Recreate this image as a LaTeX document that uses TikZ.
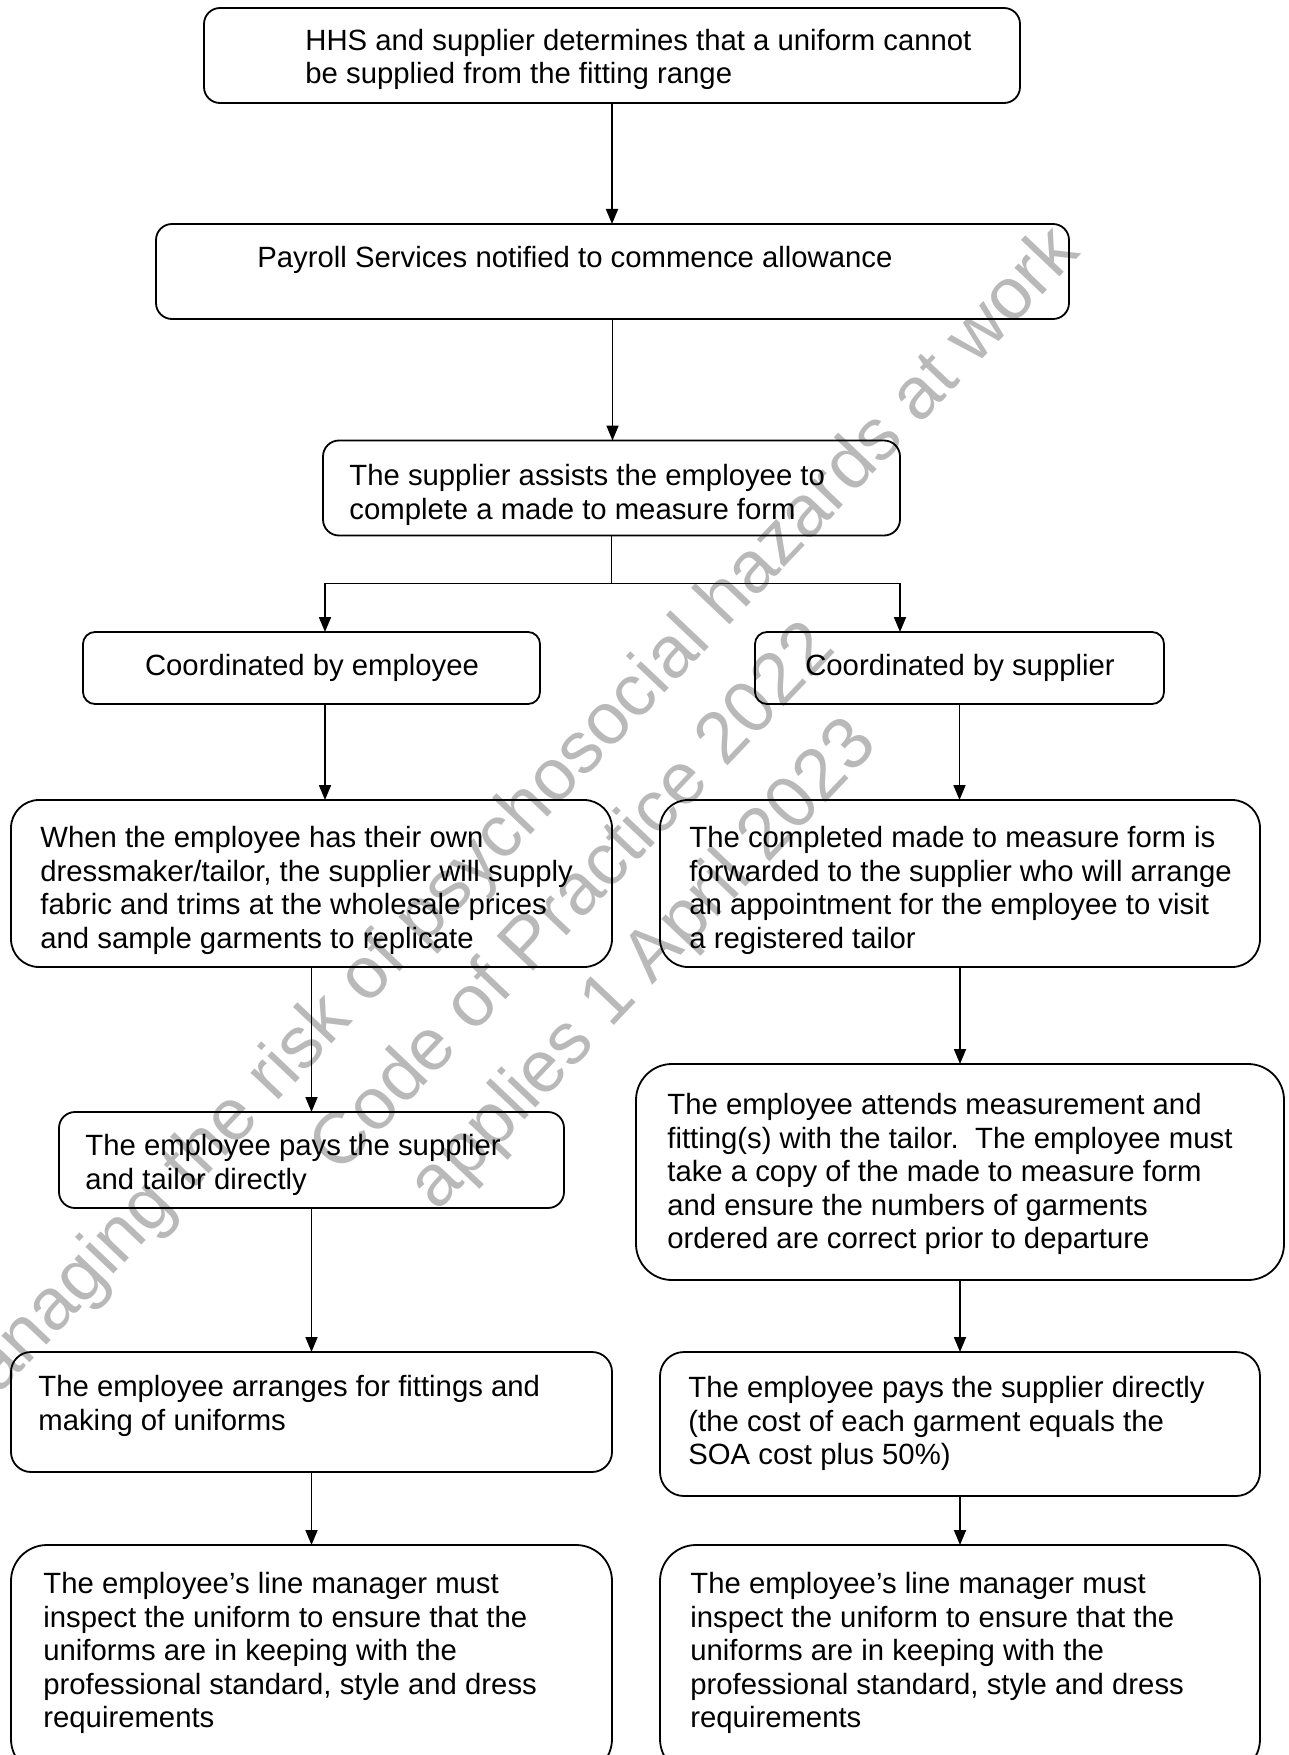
\documentclass[tikz,border=0pt]{standalone}
\usepackage{fontspec}
\setmainfont{Liberation Sans}
\usetikzlibrary{arrows.meta}
\definecolor{wmgray}{RGB}{185,185,185}
\newcommand{\tstrut}{\rule{0pt}{12pt}}
\begin{document}
\begin{tikzpicture}[x=0.5pt,y=-0.5pt,
  flowbox/.style={draw, line width=0.9pt, inner sep=0pt, outer sep=0pt},
  txt/.style={inner sep=0pt, align=left, font=\fontsize{14.65}{16.8}\selectfont, anchor=north west},
  stxt/.style={inner sep=0pt, font=\fontsize{14.65}{16.8}\selectfont},
  arr/.style={line width=0.9pt, -{Triangle[length=7.5pt,width=6pt]}},
  wm/.style={inner sep=0pt, align=center, text=wmgray, font=\fontsize{36.6}{48}\selectfont}]
\useasboundingbox (0,0) rectangle (1289,1755);
\clip (0,0) rectangle (1289,1755);

% watermark
\node[wm, rotate=46.5] (wmk) at (575,900) {Managing the risk of psychosocial hazards at work\\Code of Practice 2022\\applies 1 April 2023};

% boxes
\node[flowbox, rounded corners=8pt, minimum width=408pt, minimum height=47.5pt] (b1) at (612,55.5) {};
\node[flowbox, rounded corners=8pt, minimum width=456.5pt, minimum height=47.5pt] (b2) at (612.5,271.5) {};
\node[flowbox, rounded corners=8pt, minimum width=288.5pt, minimum height=47.5pt] (b3) at (611.5,488) {};
\node[flowbox, rounded corners=6pt, minimum width=228.5pt, minimum height=36pt] (b4) at (311.5,668) {};
\node[flowbox, rounded corners=6pt, minimum width=204.5pt, minimum height=36pt] (b5) at (959.5,668) {};
\node[flowbox, rounded corners=14pt, minimum width=300.5pt, minimum height=83.5pt] (b6) at (311.5,883.5) {};
\node[flowbox, rounded corners=14pt, minimum width=300pt, minimum height=83.5pt] (b7) at (960,883.5) {};
\node[flowbox, rounded corners=8pt, minimum width=252.5pt, minimum height=48pt] (b8) at (311.5,1160) {};
\node[flowbox, rounded corners=18pt, minimum width=324pt, minimum height=108pt] (b9) at (960,1172) {};
\node[flowbox, rounded corners=10pt, minimum width=300.5pt, minimum height=60pt] (b10) at (311.5,1412) {};
\node[flowbox, rounded corners=12pt, minimum width=300pt, minimum height=72pt] (b11) at (960,1424) {};
\node[flowbox, rounded corners=18pt, minimum width=300.5pt, minimum height=115pt] (b12) at (311.5,1660) {};
\node[flowbox, rounded corners=18pt, minimum width=300pt, minimum height=115pt] (b13) at (960,1660) {};

% texts
\node[txt] (t1) at (305,26) {\tstrut HHS and supplier determines that a uniform cannot\\be supplied from the fitting range};
\node[stxt, anchor=base west] (t2) at (257,268) {Payroll Services notified to commence allowance};
\node[txt] (t3) at (349,461) {\tstrut The supplier assists the employee to\\complete a made to measure form};
\node[stxt, anchor=base] (t4) at (312,675) {Coordinated by employee};
\node[stxt, anchor=base] (t5) at (960,675) {Coordinated by supplier};
\node[txt] (t6) at (40,823) {\tstrut When the employee has their own\\dressmaker/tailor, the supplier will supply\\fabric and trims at the wholesale prices\\and sample garments to replicate};
\node[txt] (t7) at (689,823) {\tstrut The completed made to measure form is\\forwarded to the supplier who will arrange\\an appointment for the employee to visit\\a registered tailor};
\node[txt] (t8) at (85,1131) {\tstrut The employee pays the supplier\\and tailor directly};
\node[txt] (t9) at (667,1090) {\tstrut The employee attends measurement and\\fitting(s) with the tailor.\ \ The employee must\\take a copy of the made to measure form\\and ensure the numbers of garments\\ordered are correct prior to departure};
\node[txt] (t10) at (38,1372) {\tstrut The employee arranges for fittings and\\making of uniforms};
\node[txt] (t11) at (688,1373) {\tstrut The employee pays the supplier directly\\(the cost of each garment equals the\\SOA cost plus 50\%)};
\node[txt] (t12) at (43,1569) {\tstrut The employee’s line manager must\\inspect the uniform to ensure that the\\uniforms are in keeping with the\\professional standard, style and dress\\requirements};
\node[txt] (t13) at (690,1569) {\tstrut The employee’s line manager must\\inspect the uniform to ensure that the\\uniforms are in keeping with the\\professional standard, style and dress\\requirements};

% connectors
\coordinate (jl) at (325,0);
\coordinate (jr) at (900,0);
\path (b3.south) ++(0,48) coordinate (sp);
\draw[arr] (b1.south) -- (b1.south |- b2.north);
\draw[arr] (b2.south) -- (b2.south |- b3.north);
\draw[line width=0.9pt] (b3.south) -- (sp);
\draw[arr] (sp) -| (b4.north -| jl);
\draw[arr] (sp) -| (b5.north -| jr);
\draw[arr] (b4.south -| jl) -- (b6.north -| jl);
\draw[arr] (b5.south) -- (b5.south |- b7.north);
\draw[arr] (b6.south) -- (b8.north);
\draw[arr] (b8.south) -- (b10.north);
\draw[arr] (b10.south) -- (b12.north);
\draw[arr] (b7.south) -- (b9.north);
\draw[arr] (b9.south) -- (b11.north);
\draw[arr] (b11.south) -- (b13.north);
\end{tikzpicture}
\end{document}
